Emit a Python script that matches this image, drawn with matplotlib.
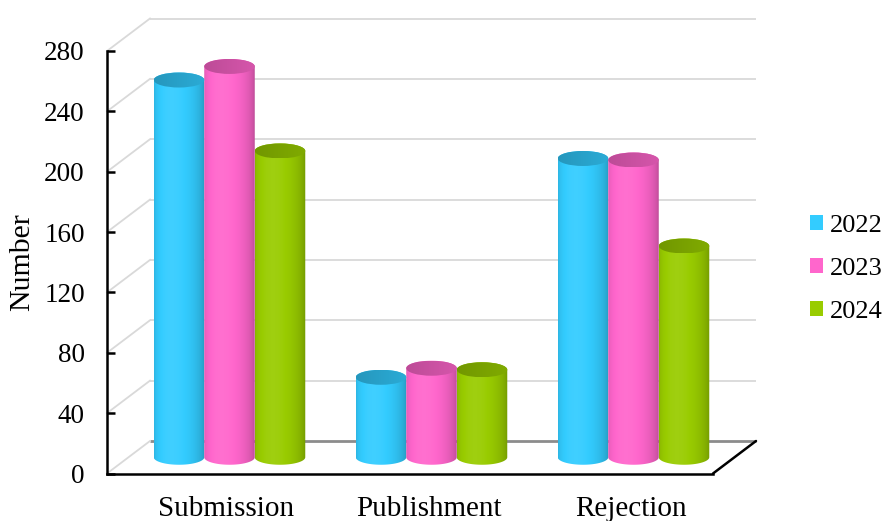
import numpy as np
import matplotlib
matplotlib.use("Agg")
import matplotlib.pyplot as plt
from matplotlib.patches import Ellipse, Polygon, Patch
from matplotlib.transforms import ScaledTranslation
from matplotlib.colors import to_rgb

# ---- data ----
categories = ["Submission", "Publishment", "Rejection"]
years = ["2022", "2023", "2024"]
values_2022 = [250, 53, 198]
values_2023 = [259, 59, 197]
values_2024 = [203, 58, 140]
series = [values_2022, values_2023, values_2024]
colors = ["#33CCFF", "#FF66CC", "#99CC00"]
yticks = [0, 40, 80, 120, 160, 200, 240, 280]

plt.rcParams["font.family"] = ["Liberation Serif", "DejaVu Serif"]

fig = plt.figure(figsize=(8.84, 5.21), dpi=100)
ax = fig.add_axes([107 / 884, 47.5 / 521, 606 / 884, 422.5 / 521])
ax.set_xlim(-0.5, 2.5)
ax.set_ylim(0, 280)

# oblique depth of the 3-D box (inches)
depth_dx, depth_dy = 0.43, 0.325
back = ax.transData + ScaledTranslation(depth_dx, depth_dy, fig.dpi_scale_trans)
mid = ax.transData + ScaledTranslation(depth_dx / 2, depth_dy / 2, fig.dpi_scale_trans)


def to_data(trans, pt):
    return ax.transData.inverted().transform(trans.transform(pt))


# back wall gridlines
for v in yticks:
    col, lw = ("#8c8c8c", 2.0) if v == 0 else ("#d9d9d9", 1.3)
    ax.plot([-0.5, 2.5], [v, v], transform=back, color=col, lw=lw,
            clip_on=False, zorder=1, solid_capstyle="butt")
    # left side wall diagonals
    p0 = (-0.5, v)
    p1 = to_data(back, p0)
    ax.plot([p0[0], p1[0]], [p0[1], p1[1]], color="#d9d9d9", lw=1.3,
            clip_on=False, zorder=1)

# right edge of the floor
p0 = (2.5, 0)
p1 = to_data(back, p0)
ax.plot([p0[0], p1[0]], [p0[1], p1[1]], color="black", lw=1.8,
        clip_on=False, zorder=6, solid_capstyle="round")

# cylinder geometry
bar_w = 0.25
r = bar_w / 2
px_per_unit = ax.transData.transform((0, 1))[1] - ax.transData.transform((0, 0))[1]
eh = 7.5 / px_per_unit  # half height of the ellipse caps, data units

N = 200
u = (np.arange(N) + 0.5) / N
phi = np.arcsin(2 * u - 1)
body_shade = 0.78 + 0.25 * np.cos(phi + 0.3)
top_shade = 0.74 + 0.10 * u


def shade_row(base, shade):
    rgb = np.array(to_rgb(base))[None, :]
    s = shade[:, None]
    out = np.where(s <= 1, rgb * s, rgb + (1 - rgb) * (s - 1) * 2)
    return np.clip(out, 0, 1)[None, :, :]


t_bot = np.linspace(np.pi, 2 * np.pi, 60)
t_top = np.linspace(0, np.pi, 60)

for j, vals in enumerate(series):
    base = colors[j]
    for i, v in enumerate(vals):
        xc = i + (j - 1) * bar_w
        x0, x1 = xc - r, xc + r
        pts = np.vstack([
            [[x0, v], [x0, 0]],
            np.column_stack([xc + r * np.cos(t_bot), eh * np.sin(t_bot)]),
            [[x1, 0], [x1, v]],
            np.column_stack([xc + r * np.cos(t_top), v + eh * np.sin(t_top)]),
        ])
        clip = Polygon(pts, closed=True, transform=mid)
        im = ax.imshow(shade_row(base, body_shade), extent=(x0, x1, -eh, v + eh),
                       aspect="auto", interpolation="bilinear", transform=mid,
                       zorder=3)
        im.set_clip_path(clip)

        cap = Ellipse((xc, v), bar_w, 2 * eh, transform=mid)
        imc = ax.imshow(shade_row(base, top_shade), extent=(x0, x1, v - eh, v + eh),
                        aspect="auto", interpolation="bilinear", transform=mid,
                        zorder=4)
        imc.set_clip_path(cap)

ax.set_xlim(-0.5, 2.5)
ax.set_ylim(0, 280)

# axes styling
for s in ("top", "right"):
    ax.spines[s].set_visible(False)
for s in ("left", "bottom"):
    ax.spines[s].set_linewidth(1.8)
    ax.spines[s].set_zorder(6)
ax.patch.set_visible(False)

ax.set_yticks(yticks)
ax.tick_params(axis="y", direction="in", length=5.5, width=1.8, pad=16,
               labelsize=19.5)
ax.set_xticks(range(len(categories)), categories)
ax.tick_params(axis="x", length=0, pad=16, labelsize=21)
shift = ScaledTranslation(depth_dx / 2 - 0.03, 0, fig.dpi_scale_trans)
for lab in ax.get_xticklabels():
    lab.set_transform(lab.get_transform() + shift)

fig.text(22 / 884, 1 - 262 / 521, "Number", rotation=90, ha="center",
         va="center", fontsize=21.5)

handles = [Patch(facecolor=c, edgecolor="none") for c in colors]
fig.legend(handles, years, loc="center left",
           bbox_to_anchor=(786 / 884, 1 - 269 / 521), frameon=False,
           fontsize=19, handlelength=0.5, handleheight=0.5,
           handletextpad=0.25, labelspacing=0.8)

fig.savefig("out.png", dpi=100)
